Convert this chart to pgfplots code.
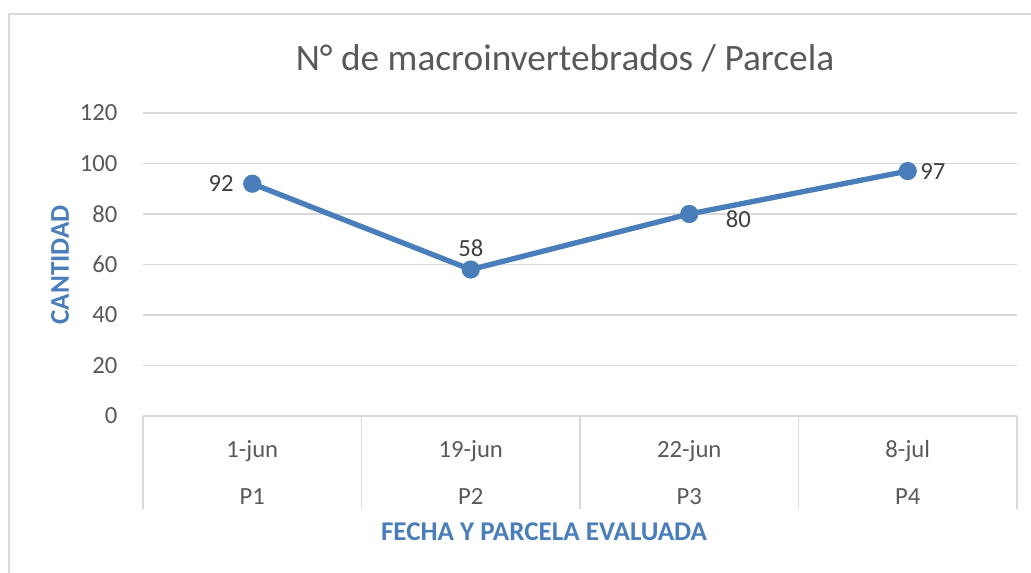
\documentclass[border=0pt]{standalone}
\usepackage{fontspec}
\setmainfont{Carlito}
\usepackage{pgfplots}
\pgfplotsset{compat=1.18}
\definecolor{lineblue}{HTML}{4A7EBB}
\definecolor{gridgray}{HTML}{D9D9D9}
\definecolor{txtgray}{HTML}{595959}
\definecolor{lbltxt}{HTML}{404040}
\begin{document}
\begin{tikzpicture}[x=0.75pt,y=0.75pt]
\useasboundingbox (0,0) rectangle (1031,573);
\coordinate (AX) at (143,157);
\draw[gridgray, line width=1.4pt] (9,-10) -- (9,559) -- (1045,559);
\begin{axis}[
  at={(AX)}, anchor=south west,
  scale only axis, width=655.5pt, height=227.25pt,
  xmin=-0.5, xmax=3.5, ymin=0, ymax=120,
  ytick={0,20,...,120},
  ymajorgrids, grid style={gridgray, line width=0.9pt},
  axis line style={draw=none},
  ytick style={draw=none},
  xtick={-0.5,0.5,1.5,2.5,3.5},
  xticklabels={},
  xtick pos=lower,
  x tick style={gridgray, line width=0.9pt},
  tick align=outside,
  major tick length=69.75pt,
  extra x ticks={0,1,2,3},
  extra x tick labels={{1-jun\\[13pt]P1},{19-jun\\[13pt]P2},{22-jun\\[13pt]P3},{8-jul\\[13pt]P4}},
  extra x tick style={major tick length=0pt, tick style={draw=none}, grid=none,
     x tick label style={align=center, anchor=north, yshift=-15pt}},
  tick label style={font=\fontsize{18.5}{22}\selectfont, text=txtgray},
  /pgf/number format/assume math mode=true,
  y tick label style={xshift=54pt},
  clip=false,
]
\addplot[lineblue, line width=4pt, mark=*, mark size=4.8pt, mark options={fill=lineblue, draw=lineblue}]
  coordinates {(0,92) (1,58) (2,80) (3,97)};
\begin{scope}[font=\fontsize{18.5}{22}\selectfont, text=lbltxt]
\node[anchor=east, xshift=-10.5pt] at (axis cs:0,92) {92};
\node[anchor=south, yshift=6pt] at (axis cs:1,58) {58};
\node[anchor=north west, xshift=24pt, yshift=6pt] at (axis cs:2,80) {80};
\node[anchor=west, xshift=6pt] at (axis cs:3,97) {97};
\end{scope}
\end{axis}
\node[text=txtgray, font=\fontsize{28}{33}\selectfont] at (565,515) {N° de macroinvertebrados / Parcela};
\node[text=lineblue, rotate=90, font=\fontsize{20.3}{24}\selectfont\bfseries] at (60,308) {CANTIDAD};
\node[text=lineblue, font=\fontsize{20.3}{24}\selectfont\bfseries] at (544,41) {FECHA Y PARCELA EVALUADA};
\end{tikzpicture}
\end{document}
